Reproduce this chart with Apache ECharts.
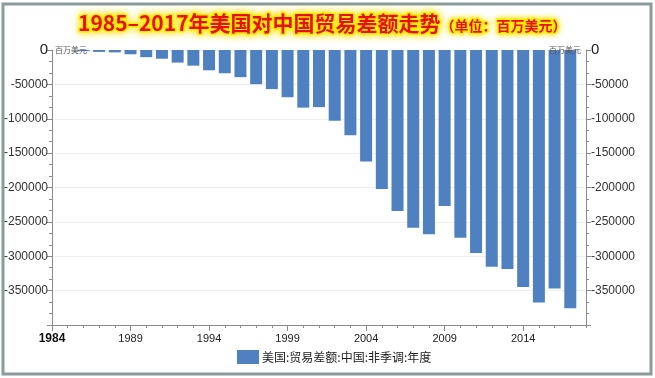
<!DOCTYPE html>
<html>
<head>
<meta charset="utf-8">
<script src="https://cdn.jsdelivr.net/npm/echarts@6/dist/echarts.min.js"></script>
<style>html,body{margin:0;padding:0;background:#fff;}#c{width:655px;height:378px;}</style>
</head>
<body>
<div id="c"></div>
<script>
const years = [1985,1986,1987,1988,1989,1990,1991,1992,1993,1994,1995,1996,1997,1998,1999,2000,2001,2002,2003,2004,2005,2006,2007,2008,2009,2010,2011,2012,2013,2014,2015,2016,2017];
const balance = [-6,-1665,-2796,-3490,-6235,-10431,-12691,-18309,-22777,-29505,-33790,-39520,-49696,-56927,-68677,-83833,-83096,-103065,-124068,-162254,-202278,-234101,-258506,-268040,-226877,-273042,-295250,-315102,-318684,-344818,-367328,-346997,-375576];
const seriesName = '美国:贸易差额:中国:非季调:年度';
const titleMain = '1985–2017年美国对中国贸易差额走势';
const titleUnit = '（单位：百万美元）';
const unitLabel = '百万美元';

const chart = echarts.init(document.getElementById('c'), null, {renderer: 'canvas'});
const axisColor = '#8a8a8a';
const labelFont = 'Liberation Sans, DejaVu Sans, sans-serif';
const cjk = 'Noto Sans CJK SC';
const yLabel = {
  color: '#333', fontSize: 12, fontFamily: labelFont, showMinLabel: false,
  formatter: v => v === 0 ? '{z|0}' : String(v),
  rich: {z: {fontSize: 15, fontFamily: labelFont, color: '#222'}}
};
const yCommon = {
  type: 'value', min: -400000, max: 0, interval: 50000,
  axisLine: {show: true, lineStyle: {color: axisColor, width: 1}},
  axisTick: {show: true, length: 5, lineStyle: {color: axisColor}},
  minorTick: {show: true, splitNumber: 3, length: 3, lineStyle: {color: axisColor}}
};
chart.setOption({
  animation: false,
  backgroundColor: '#fff',
  title: {
    left: 73, top: 8,
    text: '{a|' + titleMain + '}{b|' + titleUnit + '}',
    textStyle: {
      rich: {
        a: {fontSize: 21, fontWeight: 'bold', fontFamily: cjk, color: '#e8100c',
            textBorderColor: '#fff200', textBorderWidth: 3, textShadowColor: '#ffe000', textShadowBlur: 8},
        b: {fontSize: 14, fontWeight: 'bold', fontFamily: cjk, color: '#e8100c', padding: [4,0,0,0],
            textBorderColor: '#fff200', textBorderWidth: 3, textShadowColor: '#ffe000', textShadowBlur: 6}
      }
    }
  },
  legend: {
    left: 232, top: 345, itemWidth: 22, itemHeight: 14, itemGap: 6,
    icon: 'rect',
    textStyle: {fontSize: 12, fontFamily: cjk, color: '#222', padding: [0,0,0,-2]},
    data: [seriesName]
  },
  grid: {left: 52, right: 69, top: 50, bottom: 53, containLabel: false},
  xAxis: [
    {
      type: 'value', min: 1984, max: 2018, interval: 5,
      axisLine: {show: true, onZero: false, lineStyle: {color: axisColor}},
      axisTick: {show: true, length: 6, lineStyle: {color: axisColor}},
      splitLine: {show: false},
      axisLabel: {
        showMaxLabel: false, color: '#222', fontSize: 11, fontFamily: labelFont, margin: 8,
        formatter: v => v === 1984 ? '{b|1984}' : String(v),
        rich: {b: {fontWeight: 'bold', fontSize: 12, fontFamily: labelFont, color: '#111'}}
      }
    },
    {
      type: 'value', min: 1984, max: 2018, interval: 1, position: 'bottom',
      axisLine: {show: false, onZero: false},
      axisTick: {show: true, length: 3, lineStyle: {color: axisColor}},
      axisLabel: {show: false}, splitLine: {show: false}
    }
  ],
  yAxis: [
    Object.assign({}, yCommon, {
      position: 'left',
      splitLine: {show: true, lineStyle: {color: '#efefef'}},
      axisLabel: Object.assign({margin: 4}, yLabel)
    }),
    Object.assign({}, yCommon, {
      position: 'right',
      splitLine: {show: false},
      axisLabel: Object.assign({margin: 5}, yLabel)
    })
  ],
  series: [{
    name: seriesName, type: 'bar', xAxisIndex: 0, yAxisIndex: 0,
    barWidth: 12,
    itemStyle: {color: '#4f80bf'},
    data: years.map((y, i) => [y, balance[i]])
  }],
  graphic: [
    {type: 'rect', shape: {x: 3, y: 4, width: 648, height: 370}, silent: true,
     style: {fill: 'none', stroke: '#8b9b9b', lineWidth: 3}},
    {type: 'text', left: 55, top: 46, silent: true, z: 10,
     style: {text: unitLabel, fontSize: 8, fontFamily: cjk, fill: '#555'}},
    {type: 'text', left: 549, top: 46, silent: true, z: 10,
     style: {text: unitLabel, fontSize: 8, fontFamily: cjk, fill: '#555'}}
  ]
});
</script>
</body>
</html>
